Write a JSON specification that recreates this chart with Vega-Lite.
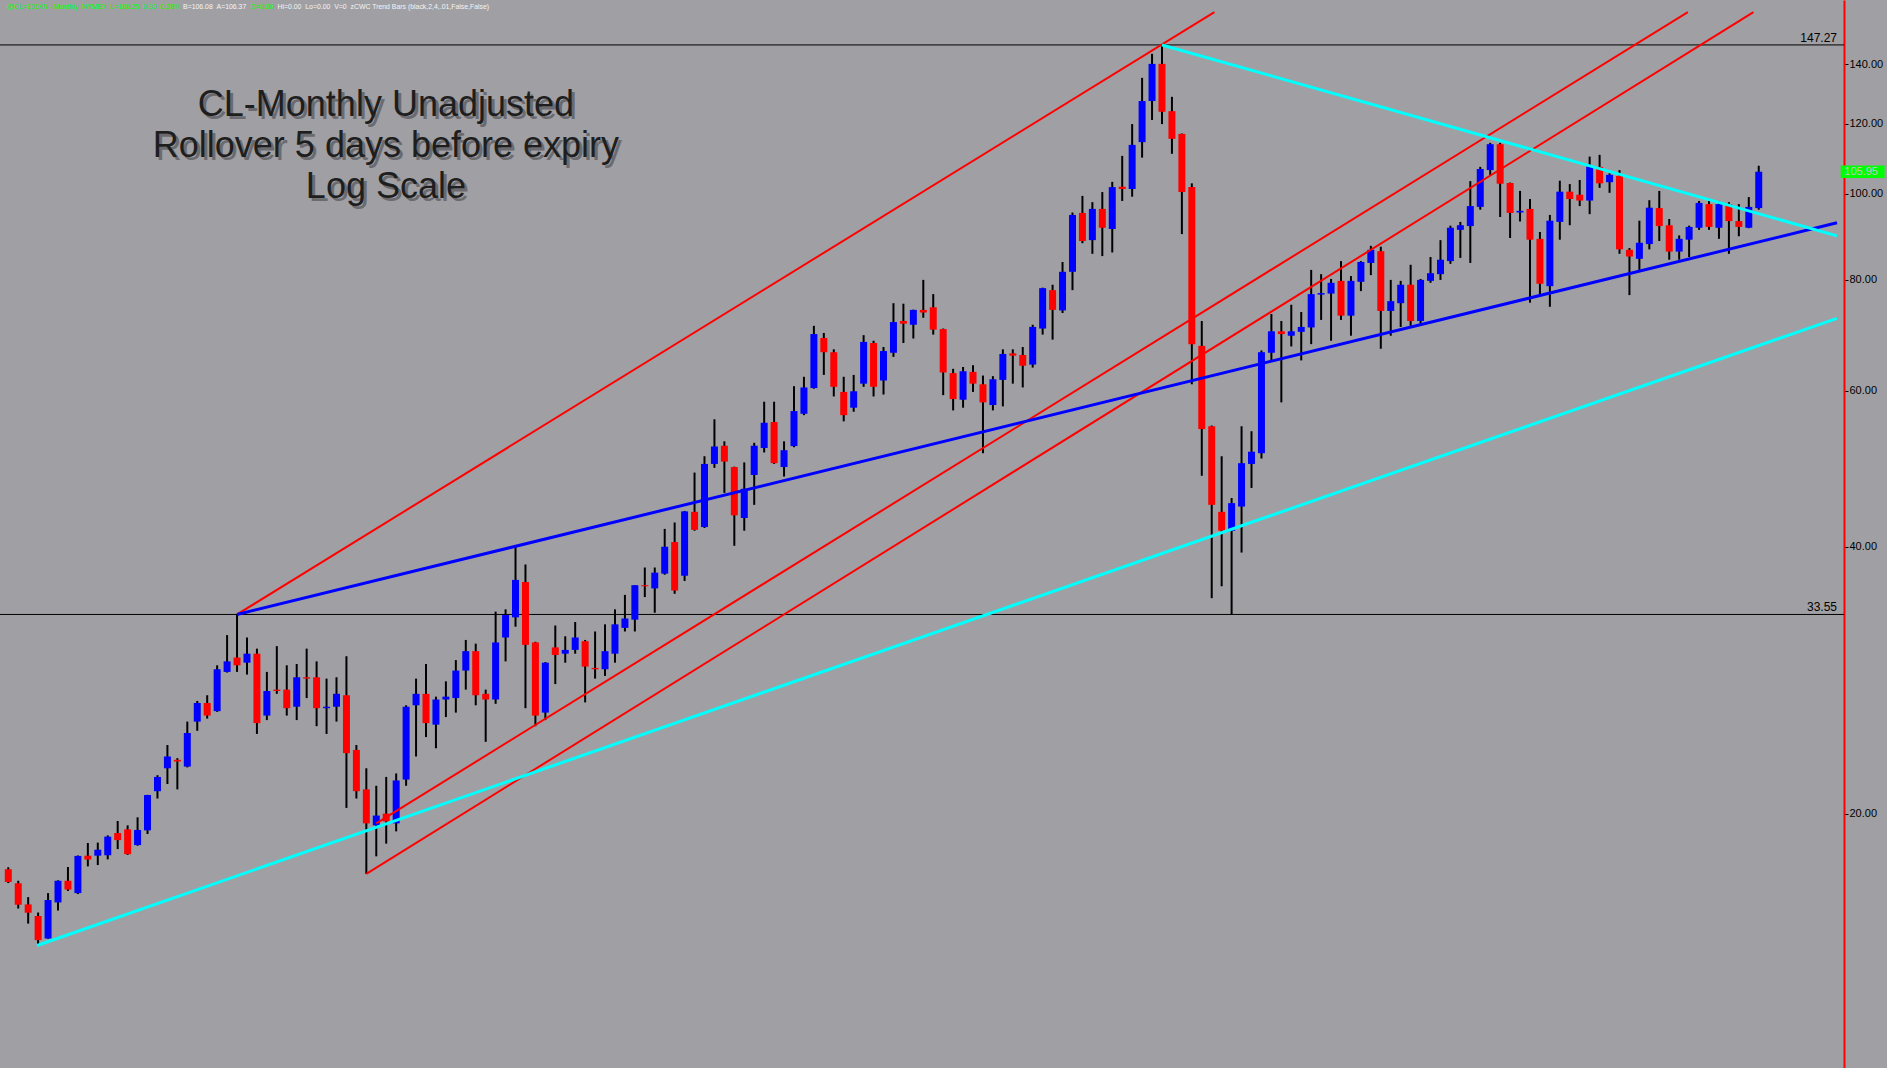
{
  "$schema": "https://vega.github.io/schema/vega-lite/v6.json",
  "width": 1844,
  "height": 1068,
  "autosize": {"type": "none"},
  "padding": {"left": 0, "top": 0, "bottom": 0, "right": 43},
  "background": "#a0a0a4",
  "config": {
    "view": {"stroke": null, "fill": "#a0a0a4"},
    "axisY": {
      "grid": false, "domainColor": "#ff0000", "domainWidth": 2,
      "tickColor": "#000000", "tickSize": 4, "tickWidth": 1,
      "labelColor": "#000000", "labelFont": "Liberation Sans", "labelFontSize": 11,
      "labelPadding": 1, "labelFlush": false, "labelOverlap": false
    }
  },
  "datasets": {
    "bars": [
      {"n":0,"o":17.31,"h":17.4,"l":16.7,"c":16.75},
      {"n":1,"o":16.69,"h":16.8,"l":15.63,"c":15.79},
      {"n":2,"o":15.8,"h":16.1,"l":15.03,"c":15.46},
      {"n":3,"o":15.33,"h":15.47,"l":14.22,"c":14.4},
      {"n":4,"o":14.46,"h":16.27,"l":14.45,"c":15.98},
      {"n":5,"o":15.88,"h":16.82,"l":15.55,"c":16.8},
      {"n":6,"o":16.8,"h":17.41,"l":16.36,"c":16.42},
      {"n":7,"o":16.27,"h":17.94,"l":16.23,"c":17.92},
      {"n":8,"o":17.93,"h":18.53,"l":17.44,"c":17.75},
      {"n":9,"o":17.93,"h":18.55,"l":17.5,"c":18.21},
      {"n":10,"o":17.95,"h":18.9,"l":17.76,"c":18.84},
      {"n":11,"o":19.02,"h":19.62,"l":18.24,"c":18.67},
      {"n":12,"o":19.2,"h":19.4,"l":17.97,"c":18.0},
      {"n":13,"o":18.43,"h":19.81,"l":18.4,"c":19.17},
      {"n":14,"o":19.15,"h":21.0,"l":18.97,"c":20.99},
      {"n":15,"o":21.2,"h":22.1,"l":20.8,"c":22.0},
      {"n":16,"o":22.5,"h":23.9,"l":21.6,"c":23.2},
      {"n":17,"o":23.0,"h":23.1,"l":21.3,"c":22.9},
      {"n":18,"o":22.6,"h":25.4,"l":22.55,"c":24.66},
      {"n":19,"o":25.4,"h":26.8,"l":24.8,"c":26.66},
      {"n":20,"o":26.66,"h":27.2,"l":25.6,"c":25.8},
      {"n":21,"o":26.1,"h":29.4,"l":26.05,"c":29.1},
      {"n":22,"o":28.9,"h":31.8,"l":28.85,"c":29.7},
      {"n":23,"o":30.0,"h":33.55,"l":28.9,"c":29.4},
      {"n":24,"o":29.6,"h":31.6,"l":28.7,"c":30.3},
      {"n":25,"o":30.3,"h":30.7,"l":24.6,"c":25.3},
      {"n":26,"o":25.8,"h":28.9,"l":25.5,"c":27.5},
      {"n":27,"o":27.6,"h":30.9,"l":27.3,"c":27.5},
      {"n":28,"o":27.6,"h":29.4,"l":25.8,"c":26.3},
      {"n":29,"o":26.4,"h":29.5,"l":25.5,"c":28.5},
      {"n":30,"o":28.5,"h":30.7,"l":27.0,"c":28.4},
      {"n":31,"o":28.5,"h":29.7,"l":25.1,"c":26.3},
      {"n":32,"o":26.3,"h":28.4,"l":24.6,"c":26.4},
      {"n":33,"o":26.4,"h":28.5,"l":25.4,"c":27.3},
      {"n":34,"o":27.2,"h":30.1,"l":20.3,"c":23.4},
      {"n":35,"o":23.6,"h":23.9,"l":20.8,"c":21.2},
      {"n":36,"o":21.3,"h":22.5,"l":17.1,"c":19.5},
      {"n":37,"o":19.4,"h":21.5,"l":17.9,"c":19.9},
      {"n":38,"o":20.0,"h":22.0,"l":18.5,"c":19.6},
      {"n":39,"o":19.5,"h":22.2,"l":19.1,"c":21.8},
      {"n":40,"o":21.85,"h":26.5,"l":21.5,"c":26.4},
      {"n":41,"o":26.5,"h":28.4,"l":23.2,"c":27.3},
      {"n":42,"o":27.3,"h":29.5,"l":24.4,"c":25.3},
      {"n":43,"o":25.2,"h":27.1,"l":23.7,"c":26.9},
      {"n":44,"o":26.9,"h":28.2,"l":25.7,"c":27.1},
      {"n":45,"o":27.0,"h":29.8,"l":26.0,"c":29.0},
      {"n":46,"o":29.0,"h":31.4,"l":27.6,"c":30.5},
      {"n":47,"o":30.5,"h":31.1,"l":26.5,"c":27.2},
      {"n":48,"o":27.3,"h":27.6,"l":24.1,"c":26.9},
      {"n":49,"o":26.9,"h":33.8,"l":26.6,"c":31.2},
      {"n":50,"o":31.6,"h":34.0,"l":29.7,"c":33.5},
      {"n":51,"o":33.3,"h":40.0,"l":32.5,"c":36.7},
      {"n":52,"o":36.5,"h":38.2,"l":26.3,"c":31.0},
      {"n":53,"o":31.2,"h":31.25,"l":25.1,"c":25.8},
      {"n":54,"o":26.0,"h":29.65,"l":25.5,"c":29.6},
      {"n":55,"o":30.8,"h":32.6,"l":28.0,"c":30.2},
      {"n":56,"o":30.3,"h":31.7,"l":29.6,"c":30.6},
      {"n":57,"o":30.6,"h":32.9,"l":30.3,"c":31.6},
      {"n":58,"o":31.3,"h":31.4,"l":26.7,"c":29.3},
      {"n":59,"o":29.2,"h":32.1,"l":28.4,"c":29.1},
      {"n":60,"o":29.1,"h":32.7,"l":28.6,"c":30.5},
      {"n":61,"o":30.3,"h":34.0,"l":29.6,"c":32.7},
      {"n":62,"o":32.4,"h":35.3,"l":32.1,"c":33.2},
      {"n":63,"o":33.1,"h":36.2,"l":32.1,"c":36.2},
      {"n":64,"o":36.2,"h":37.9,"l":35.1,"c":36.1},
      {"n":65,"o":35.9,"h":37.9,"l":33.7,"c":37.4},
      {"n":66,"o":37.3,"h":41.9,"l":37.2,"c":40.0},
      {"n":67,"o":40.5,"h":42.6,"l":35.4,"c":35.7},
      {"n":68,"o":37.1,"h":43.9,"l":36.6,"c":43.85},
      {"n":69,"o":43.8,"h":48.5,"l":41.7,"c":41.8},
      {"n":70,"o":42.1,"h":50.6,"l":42.0,"c":49.6},
      {"n":71,"o":49.6,"h":55.7,"l":49.1,"c":51.9},
      {"n":72,"o":52.0,"h":52.6,"l":46.0,"c":49.9},
      {"n":73,"o":49.2,"h":49.25,"l":40.1,"c":43.4},
      {"n":74,"o":43.1,"h":49.8,"l":41.7,"c":46.5},
      {"n":75,"o":48.2,"h":52.4,"l":44.6,"c":52.0},
      {"n":76,"o":51.7,"h":58.3,"l":51.1,"c":55.2},
      {"n":77,"o":55.3,"h":58.3,"l":49.6,"c":49.7},
      {"n":78,"o":49.2,"h":52.6,"l":48.0,"c":51.4},
      {"n":79,"o":51.95,"h":60.7,"l":51.8,"c":56.9},
      {"n":80,"o":56.5,"h":62.2,"l":56.3,"c":60.5},
      {"n":81,"o":60.4,"h":71.0,"l":60.3,"c":69.5},
      {"n":82,"o":68.8,"h":69.7,"l":62.5,"c":66.3},
      {"n":83,"o":66.3,"h":66.8,"l":59.1,"c":60.6},
      {"n":84,"o":59.8,"h":62.2,"l":55.4,"c":56.3},
      {"n":85,"o":57.4,"h":62.5,"l":56.8,"c":59.9},
      {"n":86,"o":61.1,"h":69.3,"l":60.6,"c":68.1},
      {"n":87,"o":67.9,"h":68.3,"l":59.1,"c":60.6},
      {"n":88,"o":61.6,"h":67.2,"l":59.4,"c":66.5},
      {"n":89,"o":66.2,"h":75.3,"l":65.5,"c":71.7},
      {"n":90,"o":71.9,"h":75.2,"l":67.9,"c":71.4},
      {"n":91,"o":71.2,"h":74.05,"l":68.7,"c":74.0},
      {"n":92,"o":74.0,"h":80.0,"l":72.5,"c":73.5},
      {"n":93,"o":74.5,"h":77.1,"l":69.4,"c":70.3},
      {"n":94,"o":70.4,"h":70.5,"l":59.3,"c":62.9},
      {"n":95,"o":62.8,"h":63.5,"l":57.0,"c":58.7},
      {"n":96,"o":58.6,"h":63.8,"l":57.4,"c":63.1},
      {"n":97,"o":63.0,"h":64.1,"l":59.8,"c":61.1},
      {"n":98,"o":61.0,"h":62.4,"l":51.0,"c":58.2},
      {"n":99,"o":57.8,"h":62.3,"l":57.0,"c":61.8},
      {"n":100,"o":61.7,"h":66.8,"l":57.6,"c":66.0},
      {"n":101,"o":66.1,"h":66.8,"l":61.1,"c":65.7},
      {"n":102,"o":65.8,"h":67.2,"l":60.5,"c":64.0},
      {"n":103,"o":64.2,"h":71.2,"l":63.7,"c":70.8},
      {"n":104,"o":70.5,"h":78.4,"l":69.4,"c":78.3},
      {"n":105,"o":77.9,"h":79.0,"l":68.5,"c":74.0},
      {"n":106,"o":73.9,"h":83.8,"l":73.4,"c":81.7},
      {"n":107,"o":81.7,"h":95.3,"l":77.9,"c":94.7},
      {"n":108,"o":95.2,"h":99.5,"l":88.0,"c":88.5},
      {"n":109,"o":88.7,"h":97.9,"l":85.6,"c":96.2},
      {"n":110,"o":96.2,"h":100.5,"l":85.1,"c":91.6},
      {"n":111,"o":91.3,"h":103.2,"l":85.9,"c":101.8},
      {"n":112,"o":101.9,"h":110.4,"l":98.2,"c":101.3},
      {"n":113,"o":101.3,"h":119.9,"l":99.3,"c":113.6},
      {"n":114,"o":114.4,"h":135.2,"l":109.9,"c":127.3},
      {"n":115,"o":127.3,"h":143.9,"l":121.2,"c":140.2},
      {"n":116,"o":140.2,"h":147.27,"l":119.9,"c":123.8},
      {"n":117,"o":124.0,"h":128.7,"l":111.0,"c":115.4},
      {"n":118,"o":116.9,"h":117.0,"l":90.1,"c":100.5},
      {"n":119,"o":101.8,"h":102.8,"l":61.0,"c":67.7},
      {"n":120,"o":67.4,"h":71.9,"l":48.1,"c":54.3},
      {"n":121,"o":54.7,"h":54.8,"l":35.0,"c":44.6},
      {"n":122,"o":43.8,"h":50.6,"l":36.1,"c":41.7},
      {"n":123,"o":41.7,"h":45.4,"l":33.55,"c":44.8},
      {"n":124,"o":44.4,"h":54.7,"l":39.4,"c":49.7},
      {"n":125,"o":49.6,"h":54.0,"l":46.6,"c":51.2},
      {"n":126,"o":51.0,"h":66.6,"l":50.3,"c":66.3},
      {"n":127,"o":66.2,"h":73.2,"l":64.9,"c":70.0},
      {"n":128,"o":70.0,"h":71.9,"l":58.2,"c":69.5},
      {"n":129,"o":69.2,"h":75.0,"l":67.3,"c":70.0},
      {"n":130,"o":69.9,"h":73.6,"l":64.9,"c":70.8},
      {"n":131,"o":70.7,"h":82.1,"l":67.7,"c":77.1},
      {"n":132,"o":77.0,"h":81.2,"l":72.1,"c":77.3},
      {"n":133,"o":77.2,"h":80.2,"l":68.3,"c":79.4},
      {"n":134,"o":79.8,"h":84.0,"l":72.1,"c":72.9},
      {"n":135,"o":72.9,"h":80.8,"l":69.2,"c":79.8},
      {"n":136,"o":79.6,"h":84.0,"l":77.7,"c":83.8},
      {"n":137,"o":83.6,"h":87.4,"l":81.0,"c":86.5},
      {"n":138,"o":86.2,"h":87.2,"l":66.9,"c":73.8},
      {"n":139,"o":73.8,"h":80.0,"l":69.2,"c":75.7},
      {"n":140,"o":75.3,"h":79.8,"l":70.8,"c":79.0},
      {"n":141,"o":79.0,"h":83.2,"l":71.0,"c":71.9},
      {"n":142,"o":71.9,"h":80.2,"l":71.4,"c":80.0},
      {"n":143,"o":79.8,"h":84.9,"l":79.4,"c":81.4},
      {"n":144,"o":81.2,"h":88.7,"l":80.0,"c":84.3},
      {"n":145,"o":84.0,"h":92.1,"l":83.4,"c":91.6},
      {"n":146,"o":91.1,"h":93.0,"l":84.7,"c":92.2},
      {"n":147,"o":92.0,"h":103.4,"l":83.6,"c":96.9},
      {"n":148,"o":96.7,"h":107.3,"l":96.0,"c":106.7},
      {"n":149,"o":106.4,"h":114.2,"l":104.8,"c":113.8},
      {"n":150,"o":113.8,"h":114.2,"l":94.2,"c":102.7},
      {"n":151,"o":102.9,"h":103.0,"l":89.2,"c":95.2},
      {"n":152,"o":95.3,"h":100.8,"l":93.1,"c":95.7},
      {"n":153,"o":96.2,"h":98.7,"l":75.4,"c":88.8},
      {"n":154,"o":89.0,"h":90.6,"l":77.0,"c":79.2},
      {"n":155,"o":78.7,"h":94.7,"l":74.6,"c":93.3},
      {"n":156,"o":93.0,"h":103.5,"l":88.8,"c":100.6},
      {"n":157,"o":100.6,"h":102.6,"l":92.2,"c":98.7},
      {"n":158,"o":99.8,"h":103.7,"l":96.9,"c":98.3},
      {"n":159,"o":98.3,"h":110.2,"l":94.9,"c":107.4},
      {"n":160,"o":107.3,"h":110.7,"l":101.6,"c":102.8},
      {"n":161,"o":103.1,"h":105.5,"l":100.3,"c":105.1},
      {"n":162,"o":104.8,"h":106.4,"l":85.6,"c":86.6},
      {"n":163,"o":86.5,"h":86.9,"l":76.9,"c":85.0},
      {"n":164,"o":84.5,"h":93.3,"l":82.1,"c":88.1},
      {"n":165,"o":87.8,"h":98.4,"l":86.6,"c":96.5},
      {"n":166,"o":96.4,"h":100.8,"l":88.5,"c":92.0},
      {"n":167,"o":92.2,"h":93.7,"l":84.3,"c":86.1},
      {"n":168,"o":86.1,"h":89.8,"l":84.3,"c":89.0},
      {"n":169,"o":88.8,"h":92.1,"l":84.9,"c":91.8},
      {"n":170,"o":91.6,"h":98.2,"l":91.1,"c":97.7},
      {"n":171,"o":97.4,"h":98.2,"l":91.1,"c":91.8},
      {"n":172,"o":91.6,"h":98.2,"l":89.0,"c":97.4},
      {"n":173,"o":97.4,"h":97.9,"l":85.6,"c":93.2},
      {"n":174,"o":93.2,"h":97.4,"l":89.6,"c":91.8},
      {"n":175,"o":91.6,"h":99.2,"l":91.5,"c":96.7},
      {"n":176,"o":96.4,"h":107.6,"l":96.0,"c":105.95}
    ],
    "levels": [{"p": 147.27}, {"p": 33.55}]
  },
  "layer": [
    {
      "data": {"name": "levels"},
      "mark": {"type": "rule", "color": "#000000", "strokeWidth": 1},
      "encoding": {
        "y": {"field": "p", "type": "quantitative",
          "scale": {"type": "log", "domain": [10.33, 165.5], "nice": false},
          "axis": {"orient": "right", "title": null, "values": [20, 40, 60, 80, 100, 120, 140], "format": ".2f"}}
      }
    },
    {
      "data": {"name": "bars"},
      "mark": {"type": "rule", "color": "#000000", "strokeWidth": 2},
      "encoding": {
        "x": {"field": "n", "type": "quantitative", "scale": {"domain": [-0.33, 184.07], "nice": false, "zero": false}, "axis": null},
        "y": {"field": "l", "type": "quantitative", "scale": {"type": "log", "domain": [10.33, 165.5], "nice": false},
          "axis": {"orient": "right", "title": null, "values": [20, 40, 60, 80, 100, 120, 140], "format": ".2f"}},
        "y2": {"field": "h"}
      }
    },
    {
      "data": {"name": "bars"},
      "mark": {"type": "bar", "size": 7},
      "encoding": {
        "x": {"field": "n", "type": "quantitative", "scale": {"domain": [-0.33, 184.07], "nice": false, "zero": false}, "axis": null},
        "y": {"field": "o", "type": "quantitative", "scale": {"type": "log", "domain": [10.33, 165.5], "nice": false},
          "axis": {"orient": "right", "title": null, "values": [20, 40, 60, 80, 100, 120, 140], "format": ".2f"}},
        "y2": {"field": "c"},
        "color": {"condition": {"test": "datum.c >= datum.o", "value": "#0000ff"}, "value": "#ff0000"}
      }
    },
    {
      "data": {"values": [
        {"id": "channel top", "n": 23, "p": 33.55}, {"id": "channel top", "n": 121.27, "p": 160.4},
        {"id": "channel mid", "n": 37, "p": 19.5}, {"id": "channel mid", "n": 168.87, "p": 160.4},
        {"id": "channel low", "n": 36, "p": 17.1}, {"id": "channel low", "n": 175.47, "p": 160.4}
      ]},
      "mark": {"type": "line", "color": "#ff0000", "strokeWidth": 2, "clip": true},
      "encoding": {
        "x": {"field": "n", "type": "quantitative", "scale": {"domain": [-0.33, 184.07], "nice": false, "zero": false}, "axis": null},
        "y": {"field": "p", "type": "quantitative", "scale": {"type": "log", "domain": [10.33, 165.5], "nice": false},
          "axis": {"orient": "right", "title": null, "values": [20, 40, 60, 80, 100, 120, 140], "format": ".2f"}},
        "detail": {"field": "id", "type": "nominal"}
      }
    },
    {
      "data": {"values": [
        {"id": "support", "n": 23, "p": 33.55}, {"id": "support", "n": 183.87, "p": 92.8}
      ]},
      "mark": {"type": "line", "color": "#0000ff", "strokeWidth": 3, "clip": true},
      "encoding": {
        "x": {"field": "n", "type": "quantitative", "scale": {"domain": [-0.33, 184.07], "nice": false, "zero": false}, "axis": null},
        "y": {"field": "p", "type": "quantitative", "scale": {"type": "log", "domain": [10.33, 165.5], "nice": false},
          "axis": {"orient": "right", "title": null, "values": [20, 40, 60, 80, 100, 120, 140], "format": ".2f"}}
      }
    },
    {
      "data": {"values": [
        {"id": "base", "n": 2.9, "p": 14.2}, {"id": "base", "n": 183.87, "p": 72.4},
        {"id": "top", "n": 116, "p": 147.27}, {"id": "top", "n": 183.87, "p": 89.7}
      ]},
      "mark": {"type": "line", "color": "#00ffff", "strokeWidth": 3, "clip": true},
      "encoding": {
        "x": {"field": "n", "type": "quantitative", "scale": {"domain": [-0.33, 184.07], "nice": false, "zero": false}, "axis": null},
        "y": {"field": "p", "type": "quantitative", "scale": {"type": "log", "domain": [10.33, 165.5], "nice": false},
          "axis": {"orient": "right", "title": null, "values": [20, 40, 60, 80, 100, 120, 140], "format": ".2f"}},
        "detail": {"field": "id", "type": "nominal"}
      }
    },
    {
      "data": {"name": "levels"},
      "mark": {"type": "text", "align": "right", "baseline": "alphabetic", "dy": -3, "font": "Liberation Sans", "fontSize": 12, "color": "#000000"},
      "encoding": {
        "x": {"datum": 183.87, "type": "quantitative", "scale": {"domain": [-0.33, 184.07], "nice": false, "zero": false}, "axis": null},
        "y": {"field": "p", "type": "quantitative", "scale": {"type": "log", "domain": [10.33, 165.5], "nice": false},
          "axis": {"orient": "right", "title": null, "values": [20, 40, 60, 80, 100, 120, 140], "format": ".2f"}},
        "text": {"field": "p", "type": "quantitative", "format": ".2f"}
      }
    },
    {
      "data": {"values": [
        {"t": "@CL=105XN - Monthly \u00a0NYMEX \u00a0L=106.25 \u00a00.30 \u00a00.28%", "n": -0.13, "g": "quote"},
        {"t": "B=106.08 \u00a0A=106.37", "n": 17.57, "g": "info"},
        {"t": "O=0.00", "n": 24.37, "g": "quote"},
        {"t": "Hi=0.00 \u00a0Lo=0.00 \u00a0V=0 \u00a0zCWC Trend Bars (black,2,4,.01,False,False)", "n": 27.07, "g": "info"}
      ]},
      "mark": {"type": "text", "align": "left", "baseline": "middle", "font": "Liberation Sans", "fontSize": 6.9},
      "encoding": {
        "x": {"field": "n", "type": "quantitative", "scale": {"domain": [-0.33, 184.07], "nice": false, "zero": false}, "axis": null},
        "y": {"datum": 162.6, "type": "quantitative", "scale": {"type": "log", "domain": [10.33, 165.5], "nice": false},
          "axis": {"orient": "right", "title": null, "values": [20, 40, 60, 80, 100, 120, 140], "format": ".2f"}},
        "text": {"field": "t", "type": "nominal"},
        "color": {"field": "g", "type": "nominal", "scale": {"domain": ["quote", "info"], "range": ["#00ff00", "#f4f4f4"]}, "legend": null}
      }
    },
    {
      "data": {"values": [{"label": "title"}]},
      "mark": {"type": "text", "align": "center", "baseline": "alphabetic", "font": "Liberation Sans", "fontSize": 36, "lineHeight": 41, "dx": 3, "dy": 3, "color": "#55555a", "opacity": 0.7,
        "text": ["CL-Monthly Unadjusted", "Rollover 5 days before expiry", "Log Scale"]},
      "encoding": {
        "x": {"datum": 37.97, "type": "quantitative", "scale": {"domain": [-0.33, 184.07], "nice": false, "zero": false}, "axis": null},
        "y": {"datum": 122.5, "type": "quantitative", "scale": {"type": "log", "domain": [10.33, 165.5], "nice": false},
          "axis": {"orient": "right", "title": null, "values": [20, 40, 60, 80, 100, 120, 140], "format": ".2f"}}
      }
    },
    {
      "data": {"values": [{"label": "title"}]},
      "mark": {"type": "text", "align": "center", "baseline": "alphabetic", "font": "Liberation Sans", "fontSize": 36, "lineHeight": 41, "color": "#1e1e1e",
        "text": ["CL-Monthly Unadjusted", "Rollover 5 days before expiry", "Log Scale"]},
      "encoding": {
        "x": {"datum": 37.97, "type": "quantitative", "scale": {"domain": [-0.33, 184.07], "nice": false, "zero": false}, "axis": null},
        "y": {"datum": 122.5, "type": "quantitative", "scale": {"type": "log", "domain": [10.33, 165.5], "nice": false},
          "axis": {"orient": "right", "title": null, "values": [20, 40, 60, 80, 100, 120, 140], "format": ".2f"}}
      }
    },
    {
      "data": {"values": [{"last": 105.95}]},
      "mark": {"type": "tick", "orient": "horizontal", "color": "#00ff00", "size": 44, "thickness": 12.5, "opacity": 1},
      "encoding": {
        "x": {"datum": 186.45, "type": "quantitative", "scale": {"domain": [-0.33, 184.07], "nice": false, "zero": false}, "axis": null},
        "y": {"field": "last", "type": "quantitative", "scale": {"type": "log", "domain": [10.33, 165.5], "nice": false},
          "axis": {"orient": "right", "title": null, "values": [20, 40, 60, 80, 100, 120, 140], "format": ".2f"}}
      }
    },
    {
      "data": {"values": [{"last": 105.95}]},
      "mark": {"type": "text", "align": "left", "baseline": "middle", "font": "Liberation Sans", "fontSize": 11, "color": "#c4c4c4"},
      "encoding": {
        "x": {"datum": 184.6, "type": "quantitative", "scale": {"domain": [-0.33, 184.07], "nice": false, "zero": false}, "axis": null},
        "y": {"field": "last", "type": "quantitative", "scale": {"type": "log", "domain": [10.33, 165.5], "nice": false},
          "axis": {"orient": "right", "title": null, "values": [20, 40, 60, 80, 100, 120, 140], "format": ".2f"}},
        "text": {"field": "last", "type": "quantitative", "format": ".2f"}
      }
    }
  ]
}
